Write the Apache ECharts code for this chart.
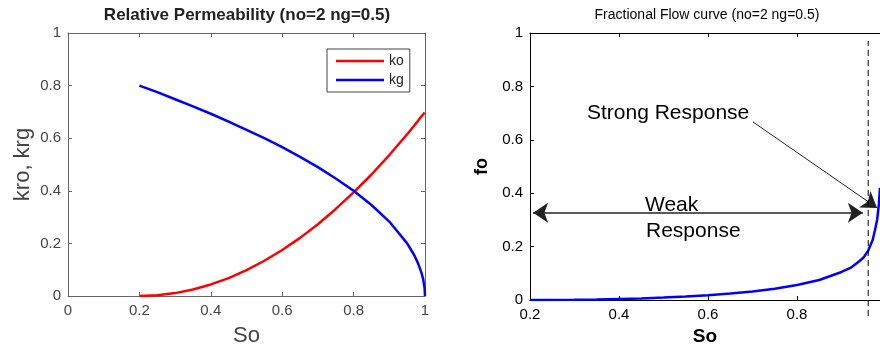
<!DOCTYPE html>
<html><head><meta charset="utf-8">
<script src="https://cdn.jsdelivr.net/npm/echarts@6/dist/echarts.min.js"></script>
<style>html,body{margin:0;padding:0;background:#fff}#c{width:880px;height:352px}</style>
</head><body><div id="c"></div>
<script>
// ---- data ----
const relSo = [0.2,0.25,0.3,0.35,0.4,0.45,0.5,0.55,0.6,0.65,0.7,0.75,0.8,0.85,0.9,0.95,0.97,0.98,0.99,0.995,0.999,1];
const ko    = [0,0.003,0.011,0.025,0.044,0.068,0.098,0.134,0.175,0.221,0.273,0.331,0.394,0.462,0.536,0.615,0.648,0.665,0.683,0.691,0.698,0.70];
const kg    = [0.80,0.775,0.748,0.721,0.693,0.663,0.632,0.600,0.566,0.529,0.490,0.447,0.40,0.346,0.283,0.20,0.155,0.126,0.089,0.063,0.028,0];
const ffSo  = [0.2,0.25,0.3,0.35,0.4,0.45,0.5,0.55,0.6,0.65,0.7,0.75,0.8,0.85,0.9,0.92,0.94,0.95,0.96,0.97,0.975,0.98,0.984,0.9865];
const fo    = [0,0.0002,0.001,0.002,0.004,0.006,0.009,0.013,0.018,0.024,0.032,0.042,0.056,0.075,0.105,0.12,0.145,0.16,0.185,0.225,0.26,0.3,0.36,0.42];
const ffSoVisibleMax = 0.9865;   // the reference figure is cropped at this So
const cutoffSo = 0.96;
const cutoffRange = [-0.06, 0.97];
const weakArrow = [[0.207,0.327],[0.948,0.327]];
const strongArrow = [[0.701,0.667],[0.98,0.345]];
const titles = ['Relative Permeability (no=2 ng=0.5)', 'Fractional Flow curve (no=2 ng=0.5)'];
const seriesNames = ['ko','kg'];

const FF = 'Liberation Sans, Arial, sans-serif';
const pairs = (xs, ys) => xs.map((x,i)=>[x, ys[i]]);

const gL = '#666', tL = '#444';
function ax(grid, pos, min, max, color, lblColor, showLbl, extra) {
  return Object.assign({
    type:'value', gridIndex:grid, position:pos, min:min, max:max, interval:0.2,
    axisLine:{show:true, onZero:false, lineStyle:{color:color, width:1}},
    axisTick:{show:true, inside:true, length:4, lineStyle:{color:color}},
    axisLabel:{show:showLbl, color:lblColor, fontSize:15, fontFamily:FF, margin:7, showMaxLabel:true},
    splitLine:{show:false}
  }, extra||{});
}
const lineIcon = 'path://M0,0H48V2.5H0Z';

const chart = echarts.init(document.getElementById('c'), null, {renderer:'canvas'});
chart.setOption({
  animation:false,
  backgroundColor:'#fff',
  title:[
    {text:titles[0], left:247, top:7, textAlign:'center', padding:0,
     textStyle:{fontSize:17, fontWeight:'bold', color:'#222', fontFamily:FF}},
    {text:titles[1], left:707, top:8, textAlign:'center', padding:0,
     textStyle:{fontSize:14, fontWeight:'normal', color:'#000', fontFamily:FF}}
  ],
  grid:[
    {left:68, top:33, width:357, height:264, containLabel:false},
    {left:530, top:33, right:0, height:267, containLabel:false}
  ],
  legend:{data:seriesNames.map(n=>({name:n, icon:lineIcon})), orient:'vertical', left:327, top:49, padding:[5,6,5,9],
    itemWidth:48, itemHeight:14, itemGap:5, borderColor:'#444', borderWidth:1,
    backgroundColor:'#fff', textStyle:{fontSize:14, color:'#222', fontFamily:FF}},
  xAxis:[
    ax(0,'bottom',0,1,gL,tL,true,{name:'So', nameLocation:'middle', nameGap:29,
      nameTextStyle:{fontSize:22, color:'#444', fontFamily:FF}}),
    ax(0,'top',0,1,gL,tL,false),
    ax(1,'bottom',0.2,ffSoVisibleMax,'#000','#000',true,{name:'So', nameLocation:'middle', nameGap:27,
      nameTextStyle:{fontSize:19, fontWeight:'bold', color:'#000', fontFamily:FF},
      axisLabel:{show:true, color:'#000', fontSize:15, fontFamily:FF, margin:7, showMaxLabel:false}}),
    ax(1,'top',0.2,ffSoVisibleMax,'#000','#000',false)
  ],
  yAxis:[
    ax(0,'left',0,1,gL,tL,true,{name:'kro, krg', nameLocation:'middle', nameGap:34,
      nameTextStyle:{fontSize:22, color:'#444', fontFamily:FF}}),
    ax(0,'right',0,1,gL,tL,false),
    ax(1,'left',0,1,'#000','#000',true,{name:'fo', nameLocation:'middle', nameGap:39,
      nameTextStyle:{fontSize:18, fontWeight:'bold', color:'#000', fontFamily:FF}})
  ],
  series:[
    {name:seriesNames[0], type:'line', xAxisIndex:0, yAxisIndex:0, data:pairs(relSo, ko),
     symbol:'none', lineStyle:{color:'#ff0000', width:2.5}, itemStyle:{color:'#ff0000'}},
    {name:seriesNames[1], type:'line', xAxisIndex:0, yAxisIndex:0, data:pairs(relSo, kg),
     symbol:'none', lineStyle:{color:'#0000ff', width:2.5}, itemStyle:{color:'#0000ff'}},
    {name:'fo', type:'line', xAxisIndex:2, yAxisIndex:2, data:pairs(ffSo, fo),
     symbol:'none', smooth:false, lineStyle:{color:'#0000ff', width:2.5}},
    {name:'cutoff', type:'line', xAxisIndex:2, yAxisIndex:2, clip:false,
     data:[[cutoffSo, cutoffRange[0]],[cutoffSo, cutoffRange[1]]],
     symbol:'none', lineStyle:{color:'#000', width:1, type:[6,4]}},
    {name:'weak', type:'lines', coordinateSystem:'cartesian2d', xAxisIndex:2, yAxisIndex:2,
     symbol:['arrow','arrow'], symbolSize:15,
     lineStyle:{color:'#222', width:1.5, opacity:1, curveness:0},
     data:[{coords:weakArrow}]},
    {name:'strong', type:'lines', coordinateSystem:'cartesian2d', xAxisIndex:2, yAxisIndex:2,
     symbol:['none','arrow'], symbolSize:15,
     lineStyle:{color:'#222', width:1, opacity:1, curveness:0},
     data:[{coords:strongArrow}]}
  ],
  graphic:[
    {type:'text', x:587, y:113.5, style:{text:'Strong Response', font:'21px '+FF, fill:'#000', verticalAlign:'middle'}},
    {type:'text', x:645, y:205.5, style:{text:'Weak', font:'21px '+FF, fill:'#000', verticalAlign:'middle'}},
    {type:'text', x:646, y:231.5, style:{text:'Response', font:'21px '+FF, fill:'#000', verticalAlign:'middle'}}
  ]
});
</script></body></html>
